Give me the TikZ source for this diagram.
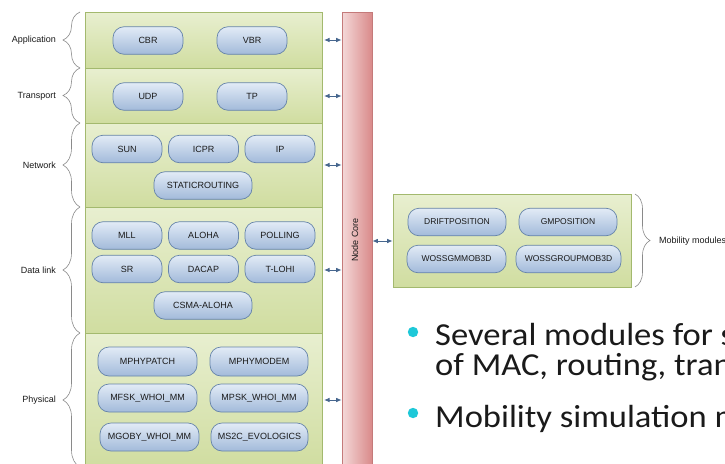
\documentclass[tikz,border=0pt]{standalone}
\usepackage{fontspec}
\usetikzlibrary{arrows.meta,decorations.pathreplacing}
\newfontfamily\diagfont{Liberation Sans}
\newfontfamily\bulletfont{Carlito}
\definecolor{laytop}{HTML}{E8EFD0}
\definecolor{laybot}{HTML}{D0DDA0}
\definecolor{layborder}{HTML}{A3B96E}
\definecolor{modtop}{HTML}{E2EBF6}
\definecolor{modbot}{HTML}{A2BADA}
\definecolor{modborder}{HTML}{6684AA}
\definecolor{coreleft}{HTML}{F4D8D8}
\definecolor{coreright}{HTML}{D98A8A}
\definecolor{coreborder}{HTML}{C47A7A}
\definecolor{arrowcol}{HTML}{46668E}
\definecolor{bracecol}{HTML}{8A8A8A}
\definecolor{bulletcol}{HTML}{1EC8D8}
\definecolor{txtcol}{HTML}{1A1A1A}
\tikzset{
  layer/.style={draw=layborder, line width=0.6pt, top color=laytop, bottom color=laybot, inner sep=0pt},
  mod/.style={draw=modborder, line width=0.7pt, rounded corners=11pt, top color=modtop, bottom color=modbot,
    inner sep=0pt, minimum height=27.5pt, font=\diagfont\fontsize{9}{10}\selectfont, text=txtcol},
  mobmod/.style={mod, font=\diagfont\fontsize{8.5}{10}\selectfont},
  lbl/.style={font=\diagfont\fontsize{9}{10}\selectfont, text=txtcol, inner sep=0pt},
  dar/.style={draw=arrowcol, line width=0.9pt, {Latex[length=5.5pt,width=4.5pt]}-{Latex[length=5.5pt,width=4.5pt]}},
  lbrace/.style={draw=bracecol, line width=0.6pt, decorate, decoration={brace, amplitude=17pt}},
  rbrace/.style={draw=bracecol, line width=0.6pt, decorate, decoration={brace, amplitude=15pt}},
  bul/.style={anchor=base west, inner sep=0pt, font=\bulletfont\fontsize{32}{36}\selectfont, text=txtcol},
}
\begin{document}
\begin{tikzpicture}[x=1pt,y=-1pt]
\useasboundingbox (0,0) rectangle (725,463);
\clip (0,0) rectangle (725,463);
\fill[white] (0,0) rectangle (725,463);

% layers
\node[layer, minimum width=237pt, minimum height=56pt] (app) at (203.5,40) {};
\node[layer, minimum width=237pt, minimum height=55pt] (trn) at (203.5,95.5) {};
\node[layer, minimum width=237pt, minimum height=84pt] (net) at (203.5,165) {};
\node[layer, minimum width=237pt, minimum height=126pt] (dl) at (203.5,270) {};
\node[layer, minimum width=237pt, minimum height=134pt] (phy) at (203.5,400) {};

% node core
\node[draw=coreborder, line width=0.6pt, left color=coreleft, right color=coreright,
  minimum width=30pt, minimum height=460pt, inner sep=0pt] (core) at (357,242) {};
\node[lbl, rotate=90] (corelbl) at (355,240) {Node Core};

% modules
\node[mod, minimum width=70pt] (cbr) at (148,40.5) {CBR};
\node[mod, minimum width=70pt] (vbr) at (252,40.5) {VBR};
\node[mod, minimum width=70pt] (udp) at (148,96.5) {UDP};
\node[mod, minimum width=70pt] (tp) at (252,96.5) {TP};
\node[mod, minimum width=70pt] (sun) at (127,149) {SUN};
\node[mod, minimum width=70pt] (icpr) at (203.5,149) {ICPR};
\node[mod, minimum width=70pt] (ip) at (280,149) {IP};
\node[mod, minimum width=98pt] (static) at (203,185.5) {STATICROUTING};
\node[mod, minimum width=70pt] (mll) at (127,235.5) {MLL};
\node[mod, minimum width=70pt] (aloha) at (203.5,235.5) {ALOHA};
\node[mod, minimum width=70pt] (polling) at (280,235.5) {POLLING};
\node[mod, minimum width=70pt] (sr) at (127,269) {SR};
\node[mod, minimum width=70pt] (dacap) at (203.5,269) {DACAP};
\node[mod, minimum width=70pt] (tlohi) at (280,269) {T-LOHI};
\node[mod, minimum width=98pt] (csma) at (203,305.5) {CSMA-ALOHA};
\node[mod, minimum width=99pt, minimum height=29pt] (mpatch) at (147.5,361.5) {MPHYPATCH};
\node[mod, minimum width=98pt, minimum height=29pt] (mmodem) at (259,361.5) {MPHYMODEM};
\node[mod, minimum width=99pt, minimum height=28pt] (mfsk) at (147.5,398) {MFSK\_WHOI\_MM};
\node[mod, minimum width=98pt, minimum height=28pt] (mpsk) at (259,398) {MPSK\_WHOI\_MM};
\node[mod, minimum width=99pt, minimum height=28pt] (mgoby) at (149.5,437) {MGOBY\_WHOI\_MM};
\node[mod, minimum width=97pt, minimum height=28pt] (ms2c) at (259.5,437) {MS2C\_EVOLOGICS};

% arrows layer <-> core
\coordinate (aA) at (324,40);
\coordinate (aT) at (324,96);
\coordinate (aN) at (324,165);
\coordinate (aD) at (324,270);
\coordinate (aP) at (324,400);
\draw[dar] (aA) -- (aA -| core.west);
\draw[dar] (aT) -- (aT -| core.west);
\draw[dar] (aN) -- (aN -| core.west);
\draw[dar] (aD) -- (aD -| core.west);
\draw[dar] (aP) -- (aP -| core.west);

% mobility box
\node[layer, minimum width=238pt, minimum height=93pt] (mob) at (512,240.5) {};
\node[mobmod, minimum width=98pt] (drift) at (457,222) {DRIFTPOSITION};
\node[mobmod, minimum width=98pt] (gmpos) at (568,222) {GMPOSITION};
\node[mobmod, minimum width=99pt] (wgm) at (456.5,259) {WOSSGMMOB3D};
\node[mobmod, minimum width=105pt] (wgroup) at (568.5,259) {WOSSGROUPMOB3D};
\coordinate (amob) at (core.east |- 0,241);
\draw[dar] (amob) -- (amob -| mob.west);

% layer braces
\draw[lbrace] (80,68) -- (80,12);
\draw[lbrace] (80,123) -- (80,68);
\draw[lbrace] (80,207) -- (80,123);
\draw[lbrace] (80,333) -- (80,207);
\draw[lbrace] (80,467) -- (80,333);
\node[lbl, anchor=east] (lApp) at (56,40) {Application};
\node[lbl, anchor=east] (lTrn) at (56,96) {Transport};
\node[lbl, anchor=east] (lNet) at (56,165) {Network};
\node[lbl, anchor=east] (lDl) at (56,270) {Data link};
\node[lbl, anchor=east] (lPhy) at (56,400) {Physical};

% mobility brace
\draw[rbrace] (635,194) -- (635,287);
\node[lbl, anchor=west] (lMob) at (659,241) {Mobility modules};

% bullets
\fill[bulletcol] (413,332) circle (5.2pt);
\fill[bulletcol] (413,413) circle (5.2pt);
\node[bul] (b1) at (435,345) {\scalebox{1.08}[1]{Several modules for s}};
\node[bul] (b2) at (435,375) {\scalebox{1.08}[1]{of MAC, routing, tran}};
\node[bul] (b3) at (435,427) {\scalebox{1.08}[1]{Mobility simulation m}};
\end{tikzpicture}
\end{document}
